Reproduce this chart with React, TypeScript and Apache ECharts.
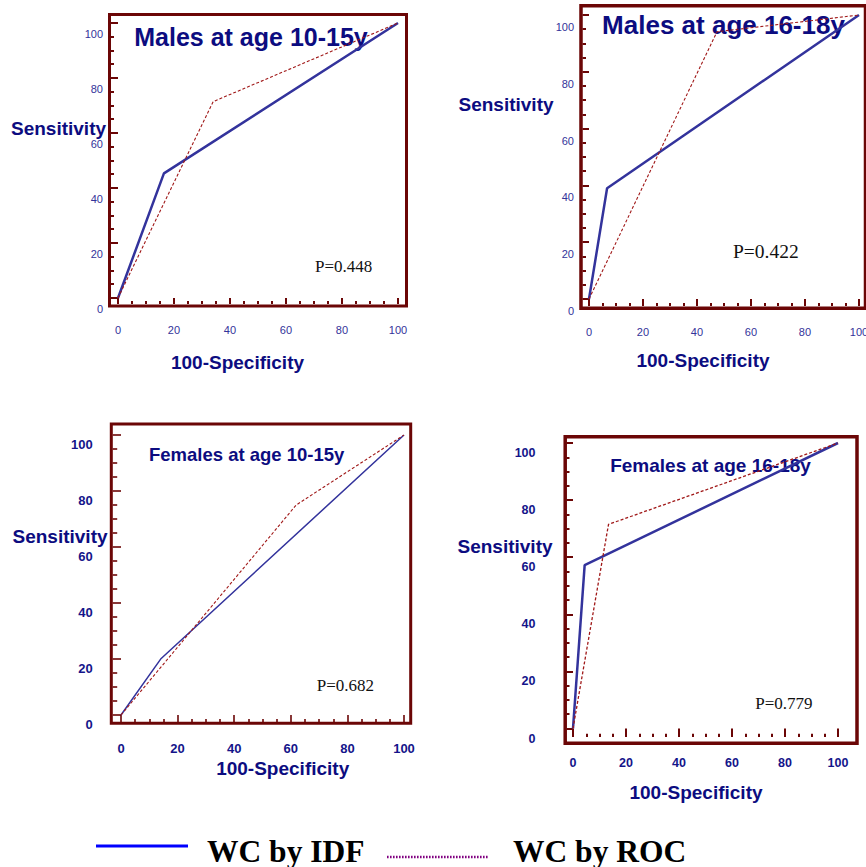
import React, { useEffect, useRef } from "react";
import * as echarts from "echarts";

// ---------- data ----------
const panelTitles = ["Males at age 10-15y", "Males at age 16-18y", "Females at age 10-15y", "Females at age 16-18y"];
const pValueLabels = ["P=0.448", "P=0.422", "P=0.682", "P=0.779"];
const seriesNames = ["WC by IDF", "WC by ROC"];
const yAxisTitle = "Sensitivity";
const xAxisTitle = "100-Specificity";

// tick positions (both axes, every panel)
const majorTicks = [0, 20, 40, 60, 80, 100];
const minorTicks = [5, 10, 15, 25, 30, 35, 45, 50, 55, 65, 70, 75, 85, 90, 95];

// Males 10-15y
const m1015IdfX = [0, 16.4, 100];
const m1015IdfY = [0, 45.3, 100];
const m1015RocX = [0, 34.0, 100];
const m1015RocY = [0, 71.4, 100];
// Males 16-18y
const m1618IdfX = [0, 6.7, 100];
const m1618IdfY = [0, 39.0, 100];
const m1618RocX = [0, 47.4, 100];
const m1618RocY = [0, 94.1, 100];
// Females 10-15y
const f1015IdfX = [0, 14.2, 100];
const f1015IdfY = [0, 20.2, 100];
const f1015RocX = [0, 61.9, 100];
const f1015RocY = [0, 75.0, 100];
// Females 16-18y
const f1618IdfX = [0, 4.4, 100];
const f1618IdfY = [0, 57.2, 100];
const f1618RocX = [0, 13.4, 100];
const f1618RocY = [0, 71.5, 100];

const idfData = [
  [m1015IdfX, m1015IdfY],
  [m1618IdfX, m1618IdfY],
  [f1015IdfX, f1015IdfY],
  [f1618IdfX, f1618IdfY],
];
const rocData = [
  [m1015RocX, m1015RocY],
  [m1618RocX, m1618RocY],
  [f1015RocX, f1015RocY],
  [f1618RocX, f1618RocY],
];

// ---------- layout / style ----------
const MAROON = "#6b0606";
const NAVY = "#0c0c80";
const SANS = "'Liberation Sans', Arial, sans-serif";
const SERIF = "'Liberation Serif', 'Times New Roman', serif";
const AXIS_MAX = 100;

// grid edges = frame-side tick base; xMin/yMin put value 0 slightly inside
const layouts = [
  {
    grid: { left: 110, top: 23, width: 288, height: 281 },
    xMin: -2.857, yMin: -2.182,
    frame: { x: 109.5, y: 14.5, width: 297, height: 291.5, lw: 3 },
    yMinor: 4, xMinor: 3, tickW: 2,
    labelFont: 11, labelBold: false, labelColor: "#33339a",
    yMargin: 7, yShift: 22, xMargin: 20,
    idfW: 2.5, rocW: 1.1,
    title: { x: 251, y: 37, size: 25 },
    yTitle: { x: 58.5, y: 128 }, xTitle: { x: 237.5, y: 362 },
    p: { x: 315, y: 266, size: 17 },
  },
  {
    grid: { left: 582.5, top: 15, width: 276.5, height: 291 },
    xMin: -2.407, yMin: -2.465,
    frame: { x: 581, y: 5.7, width: 284.5, height: 302.6, lw: 3.5 },
    yMinor: 3.5, xMinor: 3, tickW: 2,
    labelFont: 11, labelBold: false, labelColor: "#33339a",
    yMargin: 8.5, yShift: 24, xMargin: 20,
    idfW: 2.5, rocW: 1.1,
    title: { x: 723.5, y: 25, size: 26 },
    yTitle: { x: 506, y: 104 }, xTitle: { x: 703, y: 360 },
    p: { x: 733, y: 251, size: 19.5 },
  },
  {
    grid: { left: 112.7, top: 435, width: 291.3, height: 287 },
    xMin: -2.933, yMin: -2.5,
    frame: { x: 111.3, y: 424, width: 299.4, height: 299.2, lw: 3 },
    yMinor: 4.5, xMinor: 3, tickW: 1.6,
    labelFont: 13, labelBold: true, labelColor: "#14148a",
    yMargin: 20, yShift: 18, xMargin: 20,
    idfW: 1.5, rocW: 1.1,
    title: { x: 246.7, y: 454, size: 18.5 },
    yTitle: { x: 60, y: 536 }, xTitle: { x: 282.7, y: 768 },
    p: { x: 316.7, y: 685, size: 17 },
  },
  {
    grid: { left: 566.5, top: 443, width: 271.5, height: 294 },
    xMin: -2.453, yMin: -2.977,
    frame: { x: 565.2, y: 436.7, width: 291.8, height: 306.6, lw: 3.5 },
    yMinor: 3, xMinor: 3.3, tickW: 2,
    labelFont: 12.5, labelBold: true, labelColor: "#14148a",
    yMargin: 31, yShift: 20, xMargin: 19,
    idfW: 2.5, rocW: 1.3,
    title: { x: 710.5, y: 465.7, size: 19 },
    yTitle: { x: 505, y: 546 }, xTitle: { x: 696, y: 792 },
    p: { x: 755.3, y: 703, size: 17 },
  },
];

function buildOption() {
  const grid: any[] = [];
  const xAxis: any[] = [];
  const yAxis: any[] = [];
  const series: any[] = [];
  const graphic: any[] = [];

  layouts.forEach((L, i) => {
    grid.push({ ...L.grid, containLabel: false, outerBoundsMode: "none" });
    const W = L.grid.width;
    const H = L.grid.height;
    // pixel distance from grid edge to value 0 = major tick length
    const xMajorLen = (W * -L.xMin) / (AXIS_MAX - L.xMin);
    const yMajorLen = (H * -L.yMin) / (AXIS_MAX - L.yMin);
    // helper axes whose zero sits one minor-tick length from the grid edge
    const helperXMin = (-AXIS_MAX * L.yMinor) / (W - L.yMinor);
    const helperYMin = (-AXIS_MAX * L.xMinor) / (H - L.xMinor);

    const labelStyle = () => ({
      color: L.labelColor,
      fontFamily: SANS,
      fontSize: L.labelFont,
      fontWeight: L.labelBold ? "bold" : "normal",
    });
    const tickStyle = () => ({ color: MAROON, width: L.tickW });
    const base = 3 * i; // global axis index of this panel's major axis

    // ---- x axes: major, minor, helper ----
    xAxis.push({
      type: "value",
      gridIndex: i,
      min: L.xMin,
      max: AXIS_MAX,
      position: "bottom",
      axisLine: { show: false, onZero: true, onZeroAxisIndex: base },
      axisTick: { show: true, inside: false, length: yMajorLen, customValues: majorTicks, lineStyle: tickStyle() },
      splitLine: { show: false },
      axisLabel: { ...labelStyle(), margin: L.xMargin, customValues: majorTicks },
    });
    xAxis.push({
      type: "value",
      gridIndex: i,
      min: L.xMin,
      max: AXIS_MAX,
      position: "bottom",
      axisLine: { show: false, onZero: true, onZeroAxisIndex: base + 2 },
      axisTick: { show: true, inside: false, length: L.xMinor, customValues: minorTicks, lineStyle: tickStyle() },
      splitLine: { show: false },
      axisLabel: { show: false },
    });
    xAxis.push({
      type: "value",
      gridIndex: i,
      min: helperXMin,
      max: AXIS_MAX,
      position: "bottom",
      axisLine: { show: false, onZero: false },
      axisTick: { show: false },
      splitLine: { show: false },
      axisLabel: { show: false },
    });

    // ---- y axes: major, minor, helper ----
    yAxis.push({
      type: "value",
      gridIndex: i,
      min: L.yMin,
      max: AXIS_MAX,
      position: "left",
      axisLine: { show: false, onZero: true, onZeroAxisIndex: base },
      axisTick: { show: true, inside: false, length: xMajorLen, customValues: majorTicks, lineStyle: tickStyle() },
      splitLine: { show: false },
      axisLabel: {
        ...labelStyle(),
        margin: L.yMargin,
        customValues: majorTicks,
        verticalAlign: "top",
        lineHeight: L.yShift,
      },
    });
    yAxis.push({
      type: "value",
      gridIndex: i,
      min: L.yMin,
      max: AXIS_MAX,
      position: "left",
      axisLine: { show: false, onZero: true, onZeroAxisIndex: base + 2 },
      axisTick: { show: true, inside: false, length: L.yMinor, customValues: minorTicks, lineStyle: tickStyle() },
      splitLine: { show: false },
      axisLabel: { show: false },
    });
    yAxis.push({
      type: "value",
      gridIndex: i,
      min: helperYMin,
      max: AXIS_MAX,
      position: "left",
      axisLine: { show: false, onZero: false },
      axisTick: { show: false },
      splitLine: { show: false },
      axisLabel: { show: false },
    });

    const [ix, iy] = idfData[i];
    const [rx, ry] = rocData[i];
    series.push({
      name: seriesNames[0],
      type: "line",
      xAxisIndex: base,
      yAxisIndex: base,
      data: ix.map((v, j) => [v, iy[j]]),
      symbol: "none",
      silent: true,
      z: 6,
      lineStyle: { color: "#33339c", width: L.idfW, type: "solid" },
    });
    series.push({
      name: seriesNames[1],
      type: "line",
      xAxisIndex: base,
      yAxisIndex: base,
      data: rx.map((v, j) => [v, ry[j]]),
      symbol: "none",
      silent: true,
      z: 7,
      lineStyle: { color: "#a01818", width: L.rocW, type: [3, 2] },
    });

    graphic.push({
      type: "rect",
      shape: { x: L.frame.x, y: L.frame.y, width: L.frame.width, height: L.frame.height },
      style: { fill: "none", stroke: MAROON, lineWidth: L.frame.lw },
      z: 1,
      silent: true,
    });
    graphic.push({
      type: "text",
      x: L.title.x,
      y: L.title.y,
      z: 1,
      style: {
        text: panelTitles[i],
        fill: NAVY,
        font: `bold ${L.title.size}px ${SANS}`,
        align: "center",
        verticalAlign: "middle",
      },
    });
    graphic.push({
      type: "text",
      x: L.yTitle.x,
      y: L.yTitle.y,
      z: 1,
      style: {
        text: yAxisTitle,
        fill: NAVY,
        font: `bold 19px ${SANS}`,
        align: "center",
        verticalAlign: "middle",
      },
    });
    graphic.push({
      type: "text",
      x: L.xTitle.x,
      y: L.xTitle.y,
      z: 1,
      style: {
        text: xAxisTitle,
        fill: NAVY,
        font: `bold 19px ${SANS}`,
        align: "center",
        verticalAlign: "middle",
      },
    });
    graphic.push({
      type: "text",
      x: L.p.x,
      y: L.p.y,
      z: 1,
      style: {
        text: pValueLabels[i],
        fill: "#111111",
        font: `${L.p.size}px ${SERIF}`,
        align: "left",
        verticalAlign: "middle",
      },
    });
  });

  // legend
  graphic.push({
    type: "line",
    shape: { x1: 96, y1: 846, x2: 188, y2: 846 },
    style: { stroke: "#0000ff", lineWidth: 3 },
  });
  graphic.push({
    type: "text",
    x: 207,
    y: 851,
    style: {
      text: seriesNames[0],
      fill: "#000000",
      font: `bold 31.5px ${SERIF}`,
      align: "left",
      verticalAlign: "middle",
    },
  });
  graphic.push({
    type: "line",
    shape: { x1: 387, y1: 857, x2: 489, y2: 857 },
    style: { stroke: "#800080", lineWidth: 2.5, lineDash: [1.6, 1.4] },
  });
  graphic.push({
    type: "text",
    x: 513,
    y: 851,
    style: {
      text: seriesNames[1],
      fill: "#000000",
      font: `bold 31.5px ${SERIF}`,
      align: "left",
      verticalAlign: "middle",
    },
  });

  return {
    animation: false,
    backgroundColor: "#ffffff",
    grid,
    xAxis,
    yAxis,
    series,
    graphic,
  };
}

export default function App() {
  const ref = useRef<HTMLDivElement | null>(null);
  useEffect(() => {
    document.body.style.margin = "0";
    if (!ref.current) return;
    const chart = echarts.init(ref.current, null, { renderer: "svg" });
    chart.setOption(buildOption() as any);
    return () => {
      chart.dispose();
    };
  }, []);
  return (
    <div
      ref={ref}
      style={{ position: "absolute", left: 0, top: 0, width: 866, height: 867, background: "#fff" }}
    />
  );
}
